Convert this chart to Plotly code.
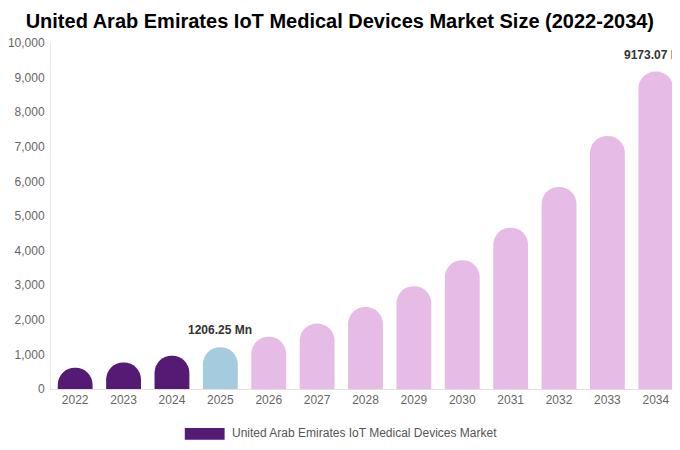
import plotly.graph_objects as go

years = [str(y) for y in range(2022, 2035)]
market_size = [613, 768, 963, 1206.25, 1510, 1890, 2370, 2970, 3720, 4660, 5840, 7310, 9173.07]
bar_colors = ["#541A74"] * 3 + ["#A5CBDF"] + ["#E6BBE6"] * 9
labelled = {"2025": "1206.25 Mn", "2034": "9173.07 Mn"}
series_name = "United Arab Emirates IoT Medical Devices Market"

fig = go.Figure()
fig.add_trace(
    go.Bar(
        x=years,
        y=market_size,
        marker=dict(color=bar_colors, cornerradius="50%", line=dict(width=0)),
        name=series_name,
        showlegend=False,
    )
)

for yr, txt in labelled.items():
    i = years.index(yr)  # category index (year strings look numeric)
    fig.add_annotation(
        x=i,
        y=market_size[i],
        text=f"<b>{txt}</b>",
        showarrow=False,
        yshift=17,
        font=dict(size=12, color="#333333"),
    )

# legend drawn by hand (wide swatch)
fig.add_shape(type="rect", xref="paper", yref="paper",
              x0=0.2127, x1=0.276, y0=-0.113, y1=-0.147,
              fillcolor="#541A74", line=dict(width=0))
fig.add_annotation(xref="paper", yref="paper", x=0.284, y=-0.127,
                   text=series_name, showarrow=False, xanchor="left", yanchor="middle",
                   font=dict(size=12, color="#555555"))

fig.update_layout(
    title=dict(text="<b>United Arab Emirates IoT Medical Devices Market Size (2022-2034)</b>",
               x=0.488, y=0.971, yanchor="middle", font=dict(size=20, color="#000000")),
    font=dict(family="Liberation Sans, Arial, sans-serif", size=12, color="#666666"),
    width=680, height=450,
    margin=dict(l=43, r=8, t=35, b=69),
    plot_bgcolor="white", paper_bgcolor="white",
    bargap=0.28,
    xaxis=dict(type="category", range=[-0.5, len(years) - 0.5], showline=True,
               linecolor="#e0e0e0", ticks="", tickfont=dict(color="#666666"),
               automargin=False),
    yaxis=dict(range=[0, 10000], dtick=1000, tickformat=",", showgrid=False,
               showline=True, linecolor="#e8e8e8", zeroline=False,
               tickfont=dict(color="#666666"), automargin=False,
               ticklabelstandoff=3),
)

fig.write_html("out.html")
